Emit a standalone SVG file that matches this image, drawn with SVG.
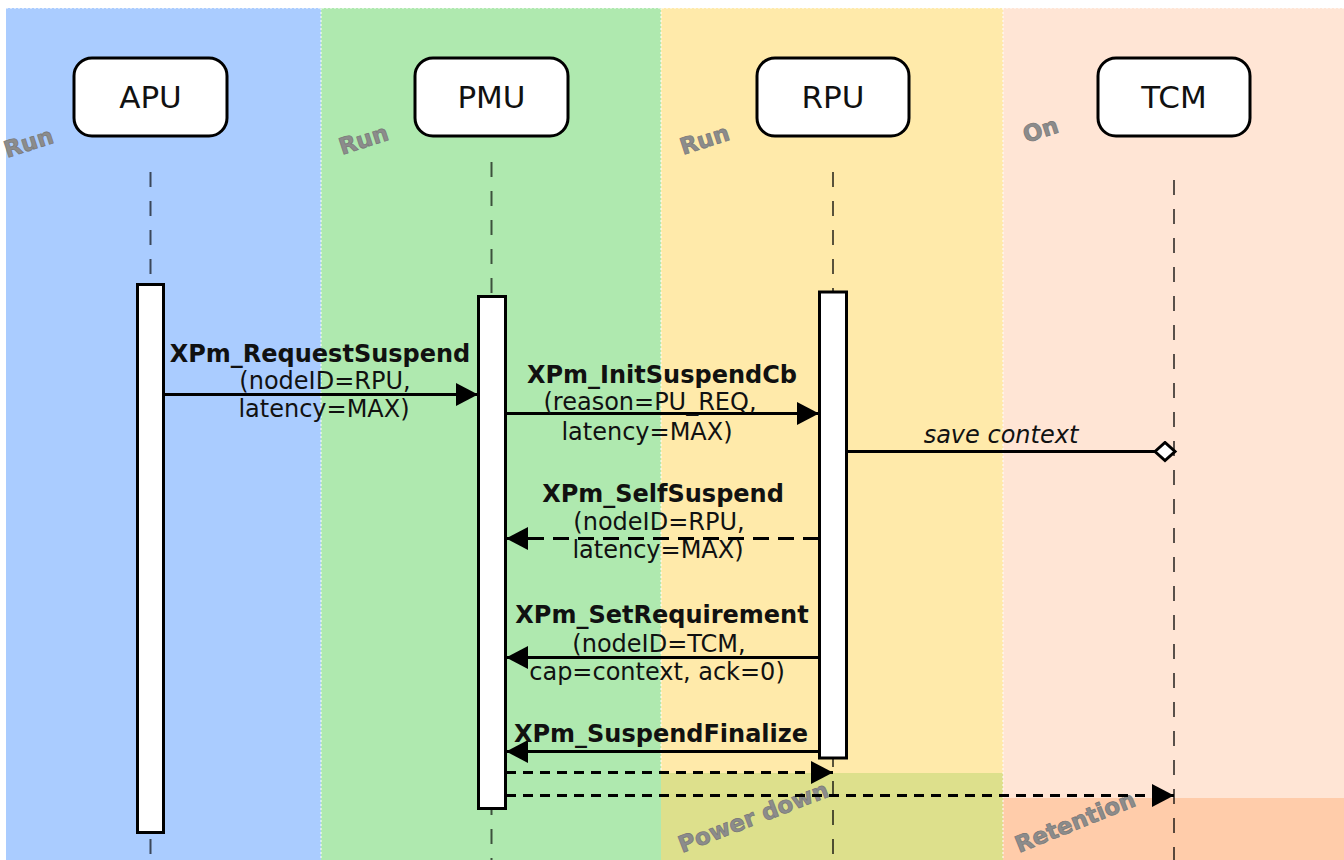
<svg xmlns="http://www.w3.org/2000/svg" width="1344" height="860" viewBox="0 0 1344 860">
<style>
.node rect{fill:#fff;stroke:#000;stroke-width:3}
.node text{font-family:"DejaVu Sans",sans-serif;font-size:31px;text-anchor:middle;fill:#111}
.life{stroke:#000;stroke-opacity:0.65;stroke-width:2;stroke-dasharray:15 14;fill:none}
.act{fill:#fff;stroke:#000;stroke-width:3}
.msg{stroke:#000;stroke-width:3;fill:none}
.dash1{stroke-dasharray:16 9}
.dash2{stroke-dasharray:10 7}
.t{font-family:"DejaVu Sans",sans-serif;font-size:24px;fill:#111;text-anchor:middle}
.b{font-weight:bold}
.i{font-style:italic}
.state{font-family:"DejaVu Sans",sans-serif;font-weight:bold;font-size:23px;fill:#8c8c8c;stroke:#777;stroke-width:0.7}
.sep{stroke:#fff;stroke-width:1;stroke-dasharray:2 2}
</style>
<defs>
<marker id="arr" markerUnits="userSpaceOnUse" markerWidth="24" markerHeight="24" refX="22" refY="11.5" orient="auto">
<path d="M0,0 L22,11.5 L0,23 Z" fill="#000"/>
</marker>
<marker id="dia" markerUnits="userSpaceOnUse" markerWidth="26" markerHeight="26" refX="2" refY="11" orient="auto">
<path d="M2,11 L12,2 L22,11 L12,20 Z" fill="#fff" stroke="#000" stroke-width="3"/>
</marker>
</defs>
<g id="background">
<rect x="0" y="0" width="1344" height="860" fill="#fff"/>
<rect x="6" y="8" width="315" height="852" fill="#aaccff"/>
<rect x="321" y="8" width="340" height="852" fill="#afe9af"/>
<rect x="661" y="8" width="342" height="852" fill="#ffeaaa"/>
<rect x="1003" y="8" width="341" height="852" fill="#ffe5d5"/>
<rect x="661" y="773" width="342" height="87" fill="#dde08c"/>
<rect x="1003" y="798" width="341" height="62" fill="#ffccaa"/>
<line class="sep" x1="321" y1="8" x2="321" y2="860"/>
<line class="sep" x1="661" y1="8" x2="661" y2="773"/>
<line class="sep" x1="1003" y1="8" x2="1003" y2="860"/>
<line class="sep" x1="6" y1="8" x2="1344" y2="8"/>
</g>
<g id="states">
<text class="state" transform="translate(7,158) rotate(-18)">Run</text>
<text class="state" transform="translate(342,155) rotate(-18)">Run</text>
<text class="state" transform="translate(683,155) rotate(-18)">Run</text>
<text class="state" transform="translate(1026,143) rotate(-18)">On</text>
<text class="state" transform="translate(682,853) rotate(-21)">Power down</text>
<text class="state" transform="translate(1019,853) rotate(-22)" font-size="24">Retention</text>
</g>
<g id="lifelines">
<line class="life" x1="150.5" y1="172" x2="150.5" y2="860"/>
<line class="life" x1="491.5" y1="162" x2="491.5" y2="860"/>
<line class="life" x1="833" y1="172" x2="833" y2="860"/>
<line class="life" x1="1174" y1="180" x2="1174" y2="860"/>
</g>
<g id="APU" class="node">
<rect x="74" y="58" width="153" height="78" rx="18"/>
<text x="150.5" y="108">APU</text>
<rect class="act" x="137.5" y="284.5" width="26" height="548"/>
</g>
<g id="PMU" class="node">
<rect x="415" y="58" width="153" height="78" rx="18"/>
<text x="491.5" y="108">PMU</text>
<rect class="act" x="478.5" y="296.5" width="27" height="512"/>
</g>
<g id="RPU" class="node">
<rect x="757" y="58" width="152" height="78" rx="18"/>
<text x="833" y="108">RPU</text>
<rect class="act" x="819.5" y="292" width="27" height="466"/>
</g>
<g id="TCM" class="node">
<rect x="1098" y="58" width="152" height="78" rx="18"/>
<text x="1174" y="108">TCM</text>
</g>
<g id="connectors">
<line class="msg" x1="164" y1="394.5" x2="478" y2="394.5" marker-end="url(#arr)"/>
<line class="msg" x1="506" y1="413.5" x2="819" y2="413.5" marker-end="url(#arr)"/>
<line class="msg" x1="847" y1="451.5" x2="1155" y2="451.5" marker-end="url(#dia)"/>
<line class="msg dash1" x1="819" y1="538.5" x2="506" y2="538.5" marker-end="url(#arr)"/>
<line class="msg" x1="819" y1="657.5" x2="506" y2="657.5" marker-end="url(#arr)"/>
<line class="msg" x1="819" y1="751.5" x2="506" y2="751.5" marker-end="url(#arr)"/>
<line class="msg dash2" x1="506" y1="772.5" x2="833" y2="772.5" marker-end="url(#arr)"/>
<line class="msg dash2" x1="506" y1="795.5" x2="1174" y2="795.5" marker-end="url(#arr)"/>
</g>
<g id="labels">
<text class="t b" x="320" y="362">XPm_RequestSuspend</text>
<text class="t" x="325" y="389">(nodeID=RPU,</text>
<text class="t" x="324" y="417">latency=MAX)</text>
<text class="t b" x="662" y="383">XPm_InitSuspendCb</text>
<text class="t" x="650" y="410">(reason=PU_REQ,</text>
<text class="t" x="647" y="440">latency=MAX)</text>
<text class="t i" x="1001" y="443">save context</text>
<text class="t b" x="663" y="502">XPm_SelfSuspend</text>
<text class="t" x="659" y="530">(nodeID=RPU,</text>
<text class="t" x="658" y="558">latency=MAX)</text>
<text class="t b" x="662" y="623">XPm_SetRequirement</text>
<text class="t" x="659" y="652">(nodeID=TCM,</text>
<text class="t" x="657" y="680">cap=context, ack=0)</text>
<text class="t b" x="661" y="742">XPm_SuspendFinalize</text>
</g>
</svg>
